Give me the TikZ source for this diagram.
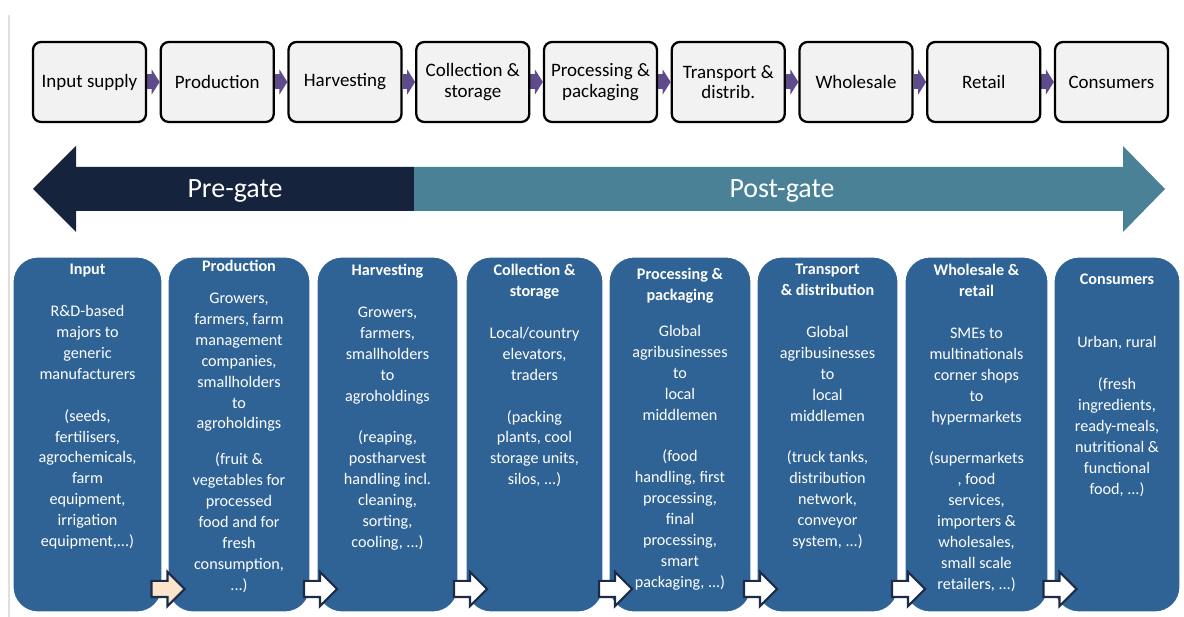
\documentclass[tikz,border=0pt]{standalone}
\usepackage{fontspec}
\setmainfont{Carlito}
\usetikzlibrary{arrows.meta,positioning,shapes.arrows,backgrounds}

\definecolor{stageblue}{HTML}{2F6396}
\definecolor{pregate}{HTML}{15233D}
\definecolor{postgate}{HTML}{4A8197}
\definecolor{flowpurple}{HTML}{5E4B8C}
\definecolor{linkgray}{HTML}{F2F2F2}
\definecolor{hopbeige}{HTML}{FBE3CC}
\definecolor{hopline}{HTML}{1C2C48}

\begin{document}
\begin{tikzpicture}[
    x=0.02cm, y=-0.02cm,
    link/.style={rectangle, draw=black, fill=linkgray, line width=1.3pt, rounded corners=0.16cm, minimum width=2.26cm, minimum height=1.6cm, align=center, inner sep=1pt, font=\fontsize{10.8}{11.6}\selectfont},
    flow/.style={flowpurple, line width=0.3cm, -{Triangle[length=0.16cm, width=0.5cm]}},
    gate/.style={text=white, font=\fontsize{15.9}{18}\selectfont},
    stage/.style={rectangle, draw=white, line width=0.6pt, fill=stageblue, rounded corners=0.5cm, minimum height=7.1cm},
    stagetxt/.style={anchor=north, align=center, text=white, inner sep=0pt, font=\fontsize{9.2}{11.9}\selectfont},
    hop/.style={single arrow, draw=hopline, fill=white, line width=1.2pt, minimum height=0.66cm, minimum width=0.64cm, single arrow head extend=0.18cm, inner sep=0.14cm}
]
\useasboundingbox (0,0) rectangle (1184,617);
\draw[gray!25, line width=1pt] (9,15) -- (9,617);

% Fila superior: eslabones de la cadena
\node[link] (sup) at (89.5,82) {Input supply};
\node[link] (prd) at (217.25,82) {Production};
\node[link] (hrv) at (345,82) {Harvesting};
\node[link] (col) at (472.75,82) {Collection \&\\storage};
\node[link] (prc) at (600.5,82) {Processing \&\\packaging};
\node[link] (trn) at (728.25,82) {Transport \&\\distrib.};
\node[link] (whl) at (856,82) {Wholesale};
\node[link] (ret) at (983.75,82) {Retail};
\node[link] (con) at (1111.5,82) {Consumers};

\begin{scope}[on background layer]
\draw[flow] (sup.east) -- (prd.west);
\draw[flow] (prd.east) -- (hrv.west);
\draw[flow] (hrv.east) -- (col.west);
\draw[flow] (col.east) -- (prc.west);
\draw[flow] (prc.east) -- (trn.west);
\draw[flow] (trn.east) -- (whl.west);
\draw[flow] (whl.east) -- (ret.west);
\draw[flow] (ret.east) -- (con.west);
\end{scope}

% Flecha doble pre-gate / post-gate
\fill[pregate] (33,189) -- (76,146) -- (76,167) -- (414,167) -- (414,211) -- (76,211) -- (76,232) -- cycle;
\fill[postgate] (414,167) -- (1123,167) -- (1123,146) -- (1165,189) -- (1123,232) -- (1123,211) -- (414,211) -- cycle;
\node[gate] (pre) at (235,191) {Pre-gate};
\node[gate] (post) at (782,191) {Post-gate};

% Fila inferior: actores por etapa
\node[stage, minimum width=2.98cm] (inp) at (87.5,434.5) {};
\node[stage, minimum width=2.84cm] (pro) at (239,434.5) {};
\node[stage, minimum width=2.82cm] (har) at (387.5,434.5) {};
\node[stage, minimum width=2.74cm] (cst) at (534.5,434.5) {};
\node[stage, minimum width=2.84cm] (pkg) at (680,434.5) {};
\node[stage, minimum width=2.82cm] (dis) at (827.5,434.5) {};
\node[stage, minimum width=2.86cm] (wrt) at (976.5,434.5) {};
\node[stage, minimum width=2.52cm] (cns) at (1117,434.5) {};

\node[stagetxt] (inpt) at (87.5,264) {\textbf{Input}\\[11.9pt]R\&D-based\\majors to\\generic\\manufacturers\\[11.9pt](seeds,\\fertilisers,\\agrochemicals,\\farm\\equipment,\\irrigation\\equipment,...)};
\node[stagetxt] (prot) at (239,260) {\textbf{Production}\\[6.2pt]Growers,\\farmers, farm\\management\\companies,\\smallholders\\to\\agroholdings\\[8.5pt](fruit \&\\vegetables for\\processed\\food and for\\fresh\\consumption,\\...)};
\node[stagetxt] (hart) at (387.5,264) {\textbf{Harvesting}\\[11.9pt]Growers,\\farmers,\\smallholders\\to\\agroholdings\\[11.9pt](reaping,\\postharvest\\handling incl.\\cleaning,\\sorting,\\cooling, ...)};
\node[stagetxt] (cstt) at (534.5,264) {\textbf{Collection \&}\\\textbf{storage}\\[11.9pt]Local/country\\elevators,\\traders\\[11.9pt](packing\\plants, cool\\storage units,\\silos, ...)};
\node[stagetxt] (pkgt) at (680,268) {\textbf{Processing \&}\\\textbf{packaging}\\[8.5pt]Global\\agribusinesses\\to\\local\\middlemen\\[11.9pt](food\\handling, first\\processing,\\final\\processing,\\smart\\packaging, ...)};
\node[stagetxt] (dist) at (827.5,264) {\textbf{Transport}\\\textbf{\& distribution}\\[11.9pt]Global\\agribusinesses\\to\\local\\middlemen\\[11.9pt](truck tanks,\\distribution\\network,\\conveyor\\system, ...)};
\node[stagetxt] (wrtt) at (976.5,264) {\textbf{Wholesale \&}\\\textbf{retail}\\[11.9pt]SMEs to\\multinationals\\corner shops\\to\\hypermarkets\\[11.9pt](supermarkets\\, food\\services,\\importers \&\\wholesales,\\small scale\\retailers, ...)};
\node[stagetxt] (cnst) at (1117,274) {\textbf{Consumers}\\[23.8pt]Urban, rural\\[11.9pt](fresh\\ingredients,\\ready-meals,\\nutritional \&\\functional\\food, ...)};

% Flechas de paso entre etapas
\node[hop, fill=hopbeige] (hop1) at (164,589) {};
\node[hop] (hop2) at (316.5,589) {};
\node[hop] (hop3) at (466.5,589) {};
\node[hop] (hop4) at (611.5,589) {};
\node[hop] (hop5) at (756.5,589) {};
\node[hop] (hop6) at (904.5,589) {};
\node[hop] (hop7) at (1056,589) {};
\end{tikzpicture}
\end{document}
